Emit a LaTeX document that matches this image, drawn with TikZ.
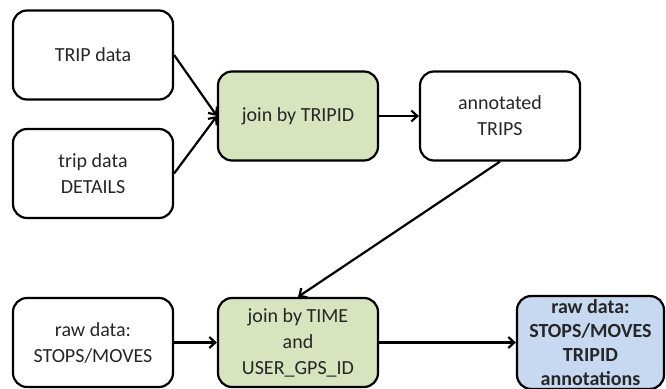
\documentclass[tikz,border=0pt]{standalone}
\usepackage{fontspec}
\setmainfont{Carlito}
\usepackage{tikz}
\usetikzlibrary{arrows.meta, positioning}

\definecolor{joingreen}{HTML}{D7E4BD}
\definecolor{resultblue}{HTML}{C6D9F1}
\definecolor{textgray}{HTML}{262626}

\begin{document}
\begin{tikzpicture}[x=1pt, y=1pt, ->, >={Straight Barb[length=6pt,width=11pt]}, line width=2.2pt, node distance=205pt,
  databox/.style={rectangle, rounded corners=14pt, draw, line width=2.2pt, minimum width=160pt, minimum height=89pt, align=center, text=textgray, font=\fontsize{20}{26}\selectfont},
  joinbox/.style={databox, fill=joingreen},
  resultbox/.style={databox, fill=resultblue, minimum width=147pt, font=\fontsize{20}{24}\selectfont\bfseries}]
  \useasboundingbox (0,0) rectangle (666,388);

  \node[databox] (trip) at (93,333) {TRIP data};
  \node[databox] (details) [below of = trip, node distance=118.5pt] {trip data\\DETAILS};
  \node[joinbox] (jointrip) at (298,272) {join by TRIPID};
  \node[databox] (annot) [right of = jointrip, node distance=202pt] {annotated\\TRIPS};
  \node[databox] (raw) at (93,45.5) {raw data:\\STOPS/MOVES};
  \node[joinbox] (jointime) [right of = raw] {join by TIME\\and\\USER\_GPS\_ID};
  \node[resultbox] (result) [right of = jointime, node distance=292.5pt] {raw data:\\STOPS/MOVES\\TRIPID\\annotations};

  \draw (trip.east) -- (jointrip.west);
  \draw (details.east) -- (jointrip.west);
  \draw (jointrip) -- (annot);
  \draw (annot.south) -- (jointime.north);
  \draw (raw) -- (jointime);
  \draw (jointime) -- (result);
\end{tikzpicture}
\end{document}
